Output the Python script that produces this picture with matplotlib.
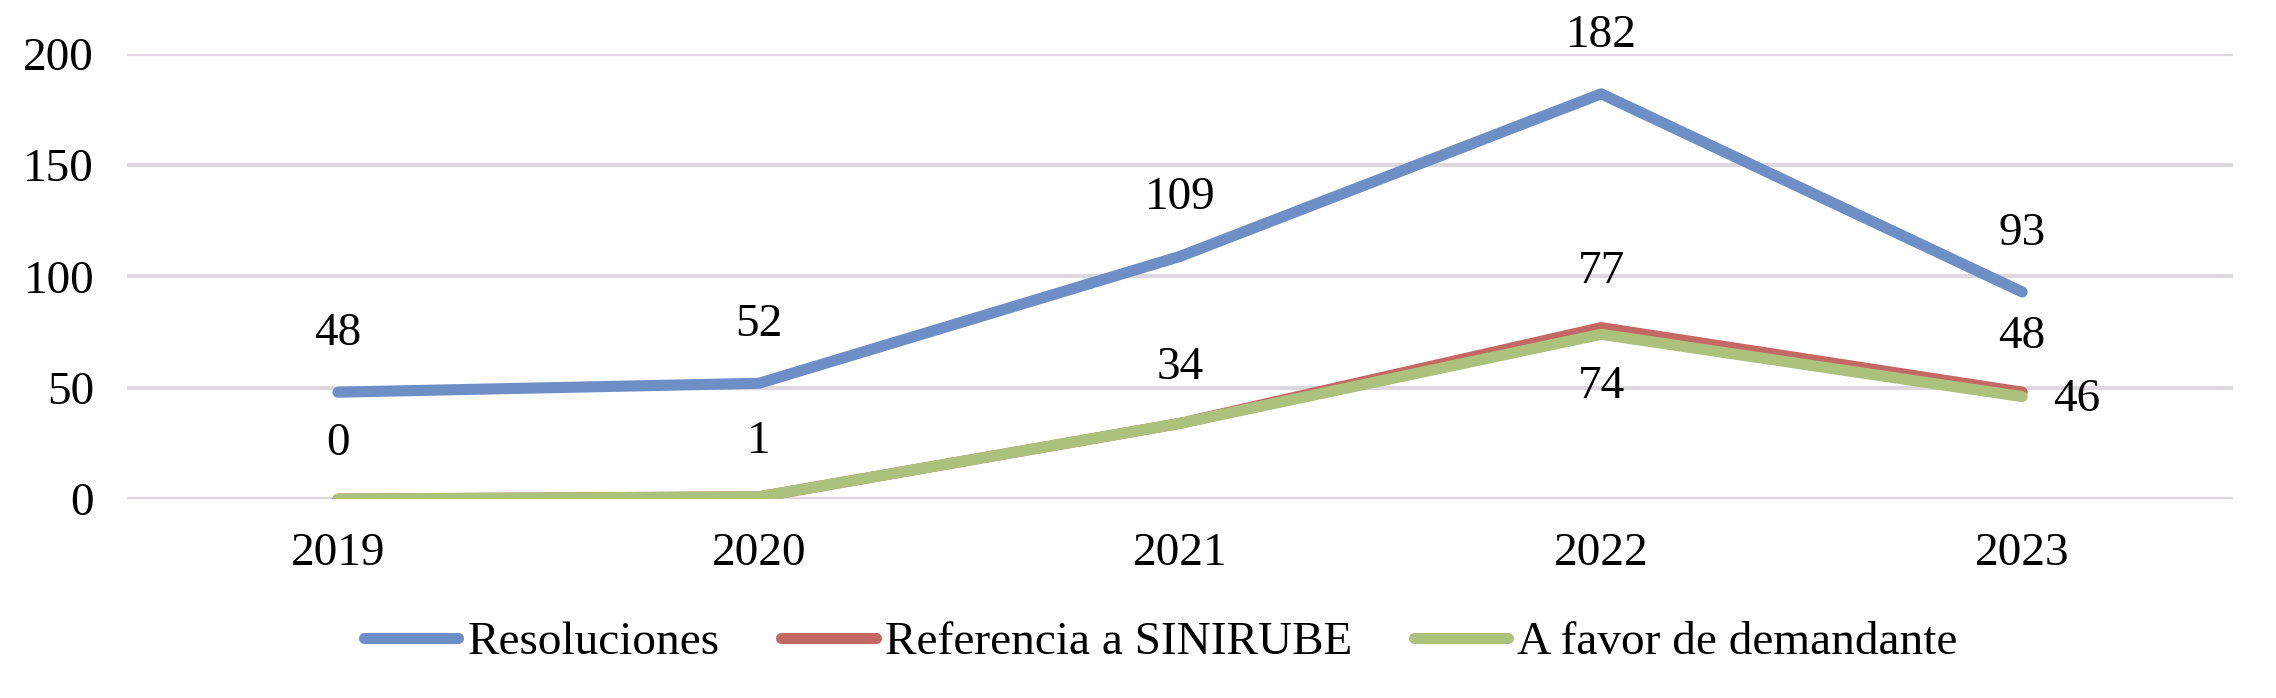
#!/usr/bin/env python3
# coding: utf-8

import numpy as np
import matplotlib
matplotlib.use('Agg')
import matplotlib.pyplot as plt

plt.rcParams['font.family'] = ['Liberation Serif', 'DejaVu Serif']

# 数据
years = ['2019', '2020', '2021', '2022', '2023']
resoluciones = [48, 52, 109, 182, 93]
referencia = [0, 1, 34, 77, 48]
a_favor = [0, 1, 34, 74, 46]

series_names = ['Resoluciones', 'Referencia a SINIRUBE', 'A favor de demandante']
colores = ['#6E8FC5', '#C46864', '#ACC17C']

fs = 34

fig = plt.figure(figsize=(22.76, 6.98), dpi=100)
ax = fig.add_axes([0.056, 0.285, 0.925, 0.638])

x = np.arange(len(years))
lineas = []
for vals, name, c in zip([resoluciones, referencia, a_favor], series_names, colores):
    ln, = ax.plot(x, vals, color=c, lw=8, label=name,
                  solid_capstyle='round', solid_joinstyle='round')
    lineas.append(ln)

# 数据标签
for i, v in enumerate(resoluciones):
    ax.annotate(str(v), (x[i], v), xytext=(0, 42), textcoords='offset points',
                ha='center', va='center', fontsize=fs)
for i, v in enumerate(referencia):
    ax.annotate(str(v), (x[i], v), xytext=(0, 40), textcoords='offset points',
                ha='center', va='center', fontsize=fs)
# A favor: 只显示不重叠的标签
ax.annotate(str(a_favor[3]), (x[3], a_favor[3]), xytext=(0, -38), textcoords='offset points',
            ha='center', va='center', fontsize=fs)
ax.annotate(str(a_favor[4]), (x[4], a_favor[4]), xytext=(22, -2), textcoords='offset points',
            ha='left', va='center', fontsize=fs)

ax.set_xlim(-0.5, 4.5)
ax.set_ylim(0, 200)
ax.set_yticks([0, 50, 100, 150, 200])
ax.set_xticks(x)
ax.set_xticklabels(years)
ax.tick_params(axis='both', length=0, labelsize=fs)
ax.tick_params(axis='x', pad=24)
ax.tick_params(axis='y', pad=24)
ax.grid(axis='y', color='#DCD8DE', lw=3)
ax.set_axisbelow(True)
for s in ax.spines.values():
    s.set_visible(False)

fig.legend(handles=lineas, loc='center', bbox_to_anchor=(0.51, 0.079), ncol=3,
           frameon=False, fontsize=fs, handlelength=2.0, handletextpad=0.2,
           columnspacing=1.3)

plt.savefig('out.png', dpi=100)
